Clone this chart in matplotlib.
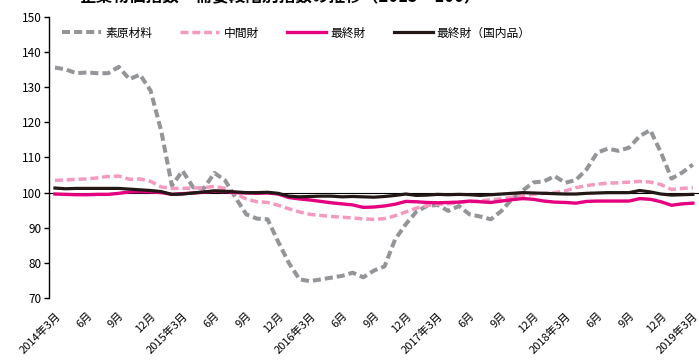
import numpy as np
import matplotlib
matplotlib.use("Agg")
import matplotlib.pyplot as plt

plt.rcParams['font.family'] = ['Noto Sans CJK JP', 'DejaVu Sans']

# データ（2014年3月〜2019年3月、月次、2015=100）
months = np.arange(61)
tick_labels = ['2014年3月', '6月', '9月', '12月',
               '2015年3月', '6月', '9月', '12月',
               '2016年3月', '6月', '9月', '12月',
               '2017年3月', '6月', '9月', '12月',
               '2018年3月', '6月', '9月', '12月',
               '2019年3月']

raw = [135.6, 135.1, 134.0, 134.2, 134.0, 134.0, 135.8, 132.3, 133.6, 129.0,
       117.5, 102.0, 106.2, 101.5, 101.2, 105.6, 103.5, 98.5, 93.8, 92.6,
       92.4, 86.0, 80.0, 75.3, 74.8, 75.3, 75.8, 76.3, 77.2, 75.9,
       77.8, 79.0, 86.7, 91.0, 94.6, 96.2, 96.5, 94.8, 96.2, 93.8,
       93.2, 92.4, 94.8, 98.2, 100.6, 102.9, 103.2, 104.7, 102.8, 103.6,
       106.6, 111.4, 112.5, 111.9, 112.8, 116.1, 117.8, 111.4, 104.0, 105.7,
       108.0]

inter = [103.5, 103.6, 103.8, 103.9, 104.2, 104.6, 104.7, 103.8, 103.9, 103.2,
         101.6, 101.2, 101.2, 101.3, 101.4, 101.8, 101.2, 99.6, 98.2, 97.4,
         97.2, 96.4, 95.4, 94.5, 93.8, 93.5, 93.2, 93.0, 92.8, 92.5,
         92.4, 92.6, 93.4, 94.5, 95.6, 96.3, 96.7, 96.8, 97.2, 97.4,
         97.6, 98.0, 98.2, 98.7, 99.1, 99.5, 99.8, 100.0, 100.5, 101.4,
         102.0, 102.4, 102.7, 102.8, 103.0, 103.2, 103.0, 102.3, 100.9, 101.2,
         101.4]

final = [99.6, 99.5, 99.4, 99.4, 99.5, 99.5, 99.8, 100.2, 100.3, 100.2,
         100.0, 99.5, 99.7, 99.9, 100.1, 100.4, 100.3, 100.0, 99.9, 99.8,
         99.9, 99.6, 98.6, 98.2, 97.9, 97.5, 97.1, 96.8, 96.5, 95.8,
         95.9, 96.2, 96.7, 97.5, 97.4, 97.2, 97.1, 97.2, 97.3, 97.6,
         97.4, 97.2, 97.6, 98.0, 98.3, 98.1, 97.6, 97.3, 97.2, 97.0,
         97.5, 97.6, 97.6, 97.6, 97.6, 98.3, 98.1, 97.4, 96.4, 96.8,
         97.0]

final_dom = [101.3, 101.1, 101.2, 101.2, 101.2, 101.2, 101.2, 101.0, 100.8, 100.6,
             100.3, 99.5, 99.6, 99.9, 100.2, 100.5, 100.4, 100.2, 100.0, 100.0,
             100.1, 99.8, 99.0, 98.8, 98.9, 99.0, 99.0, 98.8, 98.9, 98.8,
             98.7, 98.9, 99.2, 99.6, 99.2, 99.3, 99.5, 99.4, 99.5, 99.4,
             99.2, 99.4, 99.6, 99.8, 100.0, 99.9, 99.8, 99.7, 99.6, 99.6,
             99.8, 99.9, 100.0, 100.0, 100.0, 100.6, 100.2, 99.6, 99.3, 99.4,
             99.5]

fig = plt.figure(figsize=(6.99, 3.63), dpi=100)
ax = fig.add_axes([49/699, 65/363, 650/699, 281/363])

# 基準線（100）
ax.axhline(100, color='black', lw=0.8, zorder=1)

ax.plot(months, raw, color='#939598', lw=2.9, dashes=(2.0, 1.0),
        dash_capstyle='butt', label='素原材料', zorder=2)
ax.plot(months, inter, color='#f49ac1', lw=2.5, dashes=(2.3, 1.1),
        dash_capstyle='butt', label='中間財', zorder=2)
ax.plot(months, final, color='#e4007f', lw=2.4, label='最終財', zorder=3)
ax.plot(months, final_dom, color='#231815', lw=2.3, label='最終財（国内品）', zorder=4)

ax.set_xlim(-0.56, 60.58)
ax.set_ylim(70, 150)

for s in ['top', 'right', 'bottom']:
    ax.spines[s].set_visible(False)
ax.spines['left'].set_bounds(70, 150)
ax.spines['left'].set_linewidth(1.0)

ax.set_yticks(np.arange(70, 151, 10))
ax.tick_params(axis='y', length=3.5, width=1.0, pad=2, labelsize=8.5)
ax.set_xticks(months[::3])
ax.set_xticklabels(tick_labels, rotation=45, ha='right', va='top',
                   rotation_mode='anchor', fontsize=8)
ax.tick_params(axis='x', length=0, pad=9)

ax.legend(loc='center left', bbox_to_anchor=(62/699, 1 - 33/363),
          bbox_transform=fig.transFigure, ncol=4, frameon=False,
          borderaxespad=0, borderpad=0, handlelength=3.3,
          handletextpad=0.35, columnspacing=2.4, fontsize=8.5)

# タイトル（元図と同じく上端で切れている）
fig.text(80/699, 1 - 6/363, '企業物価指数・需要段階別指数の推移（2015＝100）',
         fontsize=12, fontweight='bold', va='bottom', ha='left')

fig.savefig('out.png', dpi=100)
